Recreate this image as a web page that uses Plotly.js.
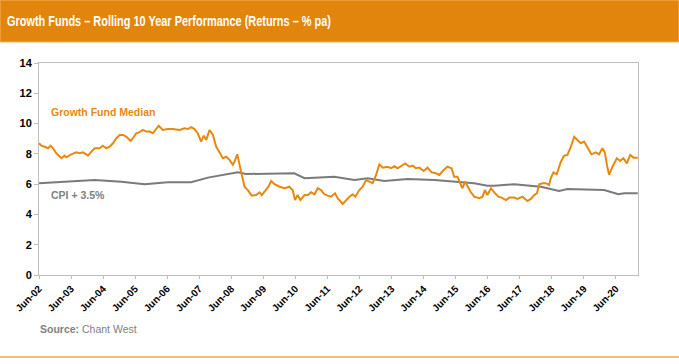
<!DOCTYPE html>
<html>
<head>
<meta charset="utf-8">
<script src="https://cdn.plot.ly/plotly-3.0.1.min.js"></script>
<style>
html,body{margin:0;padding:0;background:#fff;}
#chart{width:679px;height:364px;}
</style>
</head>
<body>
<div id="chart"></div>
<script>
// Growth Fund Median (rolling 10-year return, % pa)
const gfDates = [
"2002-06-01","2002-06-28","2002-08-05","2002-09-12","2002-10-12","2002-11-08","2002-12-16",
"2003-02-12","2003-03-19","2003-04-08","2003-06-05","2003-07-30","2003-09-08","2003-10-15","2003-11-23","2003-12-11",
"2004-01-19","2004-02-26","2004-04-22","2004-05-29","2004-07-07","2004-08-14","2004-09-21","2004-10-29","2004-12-07",
"2005-01-14","2005-02-22","2005-04-10","2005-05-06","2005-06-14","2005-07-21","2005-08-28","2005-10-06","2005-11-13","2005-12-20",
"2006-02-24","2006-04-12","2006-06-08","2006-08-04","2006-10-20","2006-12-16",
"2007-01-23","2007-03-01","2007-04-08","2007-05-15","2007-06-23","2007-07-22","2007-08-20","2007-09-27","2007-11-04","2007-12-12",
"2008-01-19","2008-02-26","2008-04-04","2008-05-11","2008-06-18","2008-07-07","2008-08-07","2008-09-03","2008-09-29","2008-10-29","2008-12-06",
"2009-01-21","2009-03-11","2009-04-18","2009-05-14","2009-06-14","2009-07-29","2009-08-29","2009-10-06","2009-12-02",
"2010-01-28","2010-03-24","2010-05-01","2010-05-28","2010-06-27","2010-07-28","2010-09-13","2010-10-20","2010-11-28",
"2011-01-05","2011-02-12","2011-03-20","2011-04-27","2011-06-04","2011-07-12","2011-08-27","2011-09-26","2011-11-22","2011-12-30",
"2012-02-08","2012-03-15","2012-04-15","2012-05-30","2012-07-07","2012-08-15","2012-09-22","2012-10-29","2012-12-07",
"2013-01-14","2013-02-21","2013-04-17","2013-05-26","2013-07-02","2013-08-10","2013-09-18","2013-11-03","2013-12-21",
"2014-01-28","2014-03-06","2014-04-13","2014-06-02","2014-07-16","2014-09-01","2014-10-20","2014-11-28",
"2015-01-16","2015-03-01","2015-04-16","2015-05-16","2015-06-23","2015-07-23","2015-08-19","2015-09-16","2015-10-15","2015-11-23","2015-12-30",
"2016-02-26","2016-04-03","2016-04-30","2016-05-29","2016-07-08","2016-08-15","2016-09-29","2016-11-07","2016-12-26",
"2017-02-03","2017-03-29","2017-05-06","2017-07-02","2017-08-28","2017-10-06","2017-11-13","2017-12-14",
"2018-01-10","2018-02-17","2018-03-25","2018-05-02","2018-05-21","2018-06-20","2018-07-28","2018-09-13","2018-10-20","2018-11-27",
"2019-01-05","2019-02-12","2019-03-20","2019-04-28","2019-06-05","2019-07-12","2019-08-27","2019-10-16","2019-11-23","2019-12-30",
"2020-01-27","2020-02-20","2020-03-15","2020-04-23","2020-06-12","2020-07-19","2020-08-26","2020-10-04","2020-11-11","2020-12-18",
"2021-02-05"
];
const gfValues = [
8.70,8.54,8.47,8.37,8.54,8.37,8.04,
7.71,7.88,7.77,7.97,8.10,8.04,8.10,7.97,7.88,
8.15,8.37,8.37,8.54,8.37,8.47,8.70,9.03,9.25,
9.25,9.13,8.85,9.03,9.36,9.43,9.58,9.47,9.47,9.36,
9.86,9.58,9.64,9.64,9.58,9.69,
9.64,9.76,9.64,9.36,8.81,9.20,8.92,9.58,9.25,8.47,
8.04,7.71,7.81,7.60,7.27,7.48,7.97,7.27,6.39,5.83,5.61,
5.24,5.28,5.46,5.28,5.50,5.83,6.21,6.00,5.83,
5.73,5.83,5.61,4.95,5.28,4.95,5.28,5.28,5.46,
5.33,5.73,5.61,5.33,5.24,5.17,5.40,5.07,4.69,4.95,
5.17,5.33,5.17,5.61,5.83,6.27,6.16,6.06,6.61,
7.31,7.09,7.15,7.05,7.18,7.05,7.22,7.37,7.15,
7.22,7.05,7.09,6.87,7.09,6.78,6.72,6.61,
6.94,7.15,7.05,6.49,6.49,6.06,5.73,6.16,5.83,5.46,5.17,
5.07,5.17,5.61,5.28,5.73,5.46,5.17,5.11,4.95,
5.11,5.11,5.02,5.17,4.89,5.02,5.28,5.40,
5.99,6.06,6.06,5.94,6.39,6.78,6.65,7.48,7.88,7.93,
8.47,9.13,8.92,8.70,8.81,8.47,7.97,8.10,7.97,8.37,
8.10,7.27,6.61,7.15,7.71,7.53,7.71,7.37,7.93,7.75,
7.75
];

// CPI + 3.5%
const cpiDates = [
"2002-06-01","2003-02-12","2004-02-26","2004-12-26","2005-09-17","2006-06-08","2007-03-01","2007-09-08",
"2008-08-14","2008-11-18","2009-10-06","2010-05-20","2010-09-13","2011-08-19","2012-04-04","2012-09-03",
"2013-03-10","2013-12-02","2014-10-02","2015-05-16","2015-12-30","2016-05-29","2016-08-15","2017-03-29",
"2017-08-28","2018-01-29","2018-08-24","2018-11-27","2020-01-19","2020-06-30","2020-09-03","2021-02-05"
];
const cpiValues = [
6.06,6.16,6.27,6.16,5.99,6.12,6.12,6.43,
6.78,6.67,6.68,6.72,6.39,6.49,6.27,6.39,
6.21,6.34,6.27,6.16,6.06,5.90,5.90,5.99,
5.90,5.83,5.55,5.68,5.61,5.33,5.40,5.40
];

const tickDates = ["2002-06-01","2003-06-01","2004-06-01","2005-06-01","2006-06-01","2007-06-01","2008-06-01",
"2009-06-01","2010-06-01","2011-06-01","2012-06-01","2013-06-01","2014-06-01","2015-06-01","2016-06-01",
"2017-06-01","2018-06-01","2019-06-01","2020-06-01"];
const tickLabels = ["Jun-02","Jun-03","Jun-04","Jun-05","Jun-06","Jun-07","Jun-08","Jun-09","Jun-10","Jun-11",
"Jun-12","Jun-13","Jun-14","Jun-15","Jun-16","Jun-17","Jun-18","Jun-19","Jun-20"];

const seriesNames = ["Growth Fund Median","CPI + 3.5%"];
const chartTitle = "Growth Funds – Rolling 10 Year Performance (Returns – % pa)";
const sourceText = "<b>Source:</b> Chant West";

const ORANGE = "#E8890F";
const GREY = "#808080";
const FONT = "Liberation Sans, Arial, sans-serif";

const traces = [
  {x: cpiDates, y: cpiValues, type: "scatter", mode: "lines", name: seriesNames[1],
   line: {color: "#7A7A7A", width: 2}, hoverinfo: "x+y"},
  {x: gfDates, y: gfValues, type: "scatter", mode: "lines", name: seriesNames[0],
   line: {color: ORANGE, width: 2}, hoverinfo: "x+y"}
];

const layout = {
  width: 679, height: 364,
  margin: {l: 39, r: 41, t: 63, b: 89},
  paper_bgcolor: "#ffffff", plot_bgcolor: "#ffffff",
  showlegend: false,
  font: {family: FONT, color: "#000"},
  title: {text: "<b>" + chartTitle + "</b>", xref: "container", yref: "container",
          x: 7/679, xanchor: "left", y: 1 - 21/364, yanchor: "middle",
          font: {family: FONT, size: 15, color: "#ffffff"}},
  xaxis: {type: "date", range: ["2002-06-01", "2021-02-08"],
          tickvals: tickDates, ticktext: tickLabels, tickangle: -45,
          tickfont: {family: FONT, size: 10, color: "#000", weight: "bold"},
          showgrid: false, zeroline: false, showline: true, linecolor: "#BFBFBF", linewidth: 1,
          mirror: true, ticks: "outside", ticklen: 3, tickcolor: "#BFBFBF"},
  yaxis: {range: [0, 14], tickvals: [0,2,4,6,8,10,12,14],
          tickfont: {family: FONT, size: 11, color: "#000", weight: "bold"},
          showgrid: false, zeroline: false, showline: true, linecolor: "#BFBFBF", linewidth: 1,
          mirror: true, ticks: "outside", ticklen: 4, tickcolor: "#BFBFBF"},
  shapes: [
    {type: "rect", xref: "paper", yref: "paper", x0: -39/599, x1: 640/599, y0: (275-42)/212, y1: 275/212,
     fillcolor: "#E2850C", line: {color: "#F2B562", width: 1}, layer: "below"},
    {type: "line", xref: "paper", yref: "paper", x0: -39/599, x1: 640/599, y0: (275-357)/212, y1: (275-357)/212,
     line: {color: "#F4BE78", width: 2}}
  ],
  annotations: [
    {text: "<b>" + seriesNames[0] + "</b>", xref: "paper", yref: "paper", x: 10/599, y: (275-112)/212,
     xanchor: "left", yanchor: "middle", showarrow: false, font: {family: FONT, size: 10.5, color: ORANGE}},
    {text: "<b>" + seriesNames[1] + "</b>", xref: "paper", yref: "paper", x: 10/599, y: (275-195)/212,
     xanchor: "left", yanchor: "middle", showarrow: false, font: {family: FONT, size: 10.5, color: GREY}},
    {text: sourceText, xref: "paper", yref: "paper", x: -1/599, y: (275-329)/212,
     xanchor: "left", yanchor: "middle", showarrow: false, font: {family: FONT, size: 10.5, color: GREY}}
  ]
};

Plotly.newPlot("chart", traces, layout, {displayModeBar: false, staticPlot: true}).then(function () {
  // The reference title uses a condensed face; compress the real text to the same width.
  const t = document.querySelector("#chart .gtitle");
  if (t) {
    t.setAttribute("textLength", "324");
    t.setAttribute("lengthAdjust", "spacingAndGlyphs");
  }
});
</script>
</body>
</html>
